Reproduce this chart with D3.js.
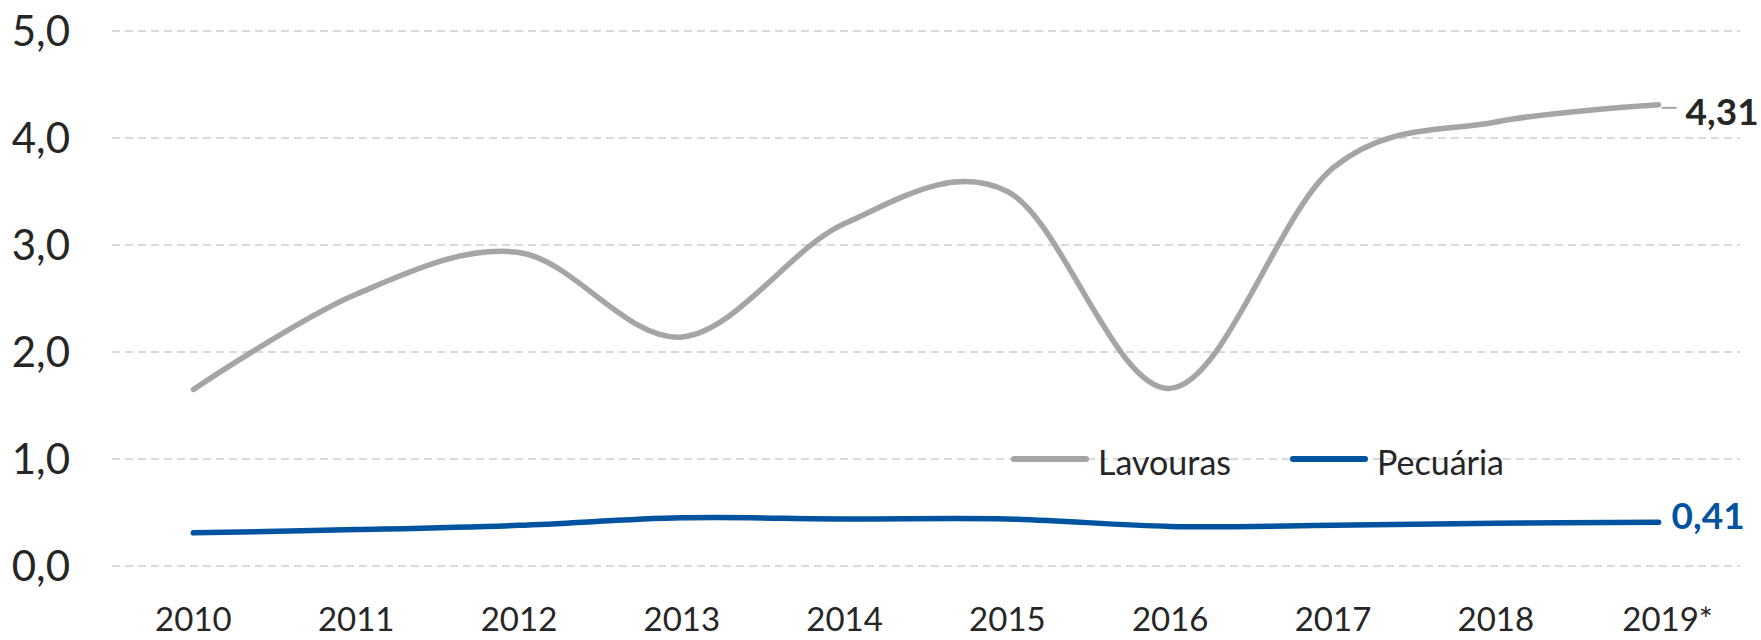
<!DOCTYPE html>
<html>
<head>
<meta charset="utf-8">
<script src="https://cdn.jsdelivr.net/npm/d3@7"></script>
<style>
  body { margin: 0; background: #fff; }
  text { font-family: Lato, "Noto Sans", sans-serif; fill: #262626; }
</style>
</head>
<body>
<svg id="chart"></svg>
<script>
// data
var years = ["2010", "2011", "2012", "2013", "2014", "2015", "2016", "2017", "2018", "2019*"];
var lavouras = [1.65, 2.54, 2.93, 2.14, 3.2, 3.5, 1.66, 3.72, 4.15, 4.31];
var pecuaria = [0.31, 0.34, 0.38, 0.45, 0.44, 0.44, 0.37, 0.38, 0.40, 0.41];
var yTicks = [0, 1, 2, 3, 4, 5];

var width = 1761, height = 640;
var margin = { top: 31, right: 21, bottom: 74, left: 112 };

var svg = d3.select("#chart")
	.attr("width", width)
	.attr("height", height);

var x = d3.scaleBand()
	.domain(years)
	.range([margin.left, width - margin.right]);

var y = d3.scaleLinear()
	.domain([0, 5])
	.range([height - margin.bottom, margin.top]);

var fmt = function (d) { return d3.format(".1f")(d).replace(".", ","); };
var cx = function (d, i) { return x(years[i]) + x.bandwidth() / 2; };

// gridlines
svg.append("g").selectAll("line")
	.data(yTicks)
	.enter().append("line")
	.attr("x1", x.range()[0])
	.attr("x2", x.range()[1])
	.attr("y1", function (d) { return y(d); })
	.attr("y2", function (d) { return y(d); })
	.attr("stroke", "#d9d9d9")
	.attr("stroke-width", 2)
	.attr("stroke-dasharray", "8,5");

// y labels
svg.append("g").selectAll("text")
	.data(yTicks)
	.enter().append("text")
	.attr("x", 70)
	.attr("y", function (d) { return y(d); })
	.attr("dy", "0.36em")
	.attr("text-anchor", "end")
	.style("font-size", "42px")
	.text(fmt);

// x labels
svg.append("g").selectAll("text")
	.data(years)
	.enter().append("text")
	.attr("x", function (d) { return x(d) + x.bandwidth() / 2 + (d.length > 4 ? 9 : 0); })
	.attr("y", 631)
	.attr("text-anchor", "middle")
	.style("font-size", "33px")
	.text(function (d) { return d; });

var line = d3.line()
	.x(cx)
	.y(function (d) { return y(d); })
	.curve(d3.curveCatmullRom.alpha(0));

svg.append("path")
	.datum(lavouras)
	.attr("d", line)
	.attr("fill", "none")
	.attr("stroke", "#a5a5a5")
	.attr("stroke-width", 5.5)
	.attr("stroke-linecap", "round");

svg.append("path")
	.datum(pecuaria)
	.attr("d", line)
	.attr("fill", "none")
	.attr("stroke", "#00539f")
	.attr("stroke-width", 5.5)
	.attr("stroke-linecap", "round");

// end labels
var last = years.length - 1;
var xEnd = cx(null, last);
svg.append("line")
	.attr("x1", xEnd + 3).attr("x2", xEnd + 18)
	.attr("y1", y(lavouras[last]) + 3).attr("y2", y(lavouras[last]) + 3)
	.attr("stroke", "#a5a5a5")
	.attr("stroke-width", 2);

svg.append("text")
	.attr("x", xEnd + 27)
	.attr("y", y(lavouras[last]) + 7)
	.attr("dy", "0.36em")
	.style("font-size", "37px")
	.style("font-weight", "bold")
	.style("fill", "#262626")
	.text(lavouras[last].toFixed(2).replace(".", ","));

svg.append("text")
	.attr("x", xEnd + 13)
	.attr("y", y(pecuaria[last]) - 6)
	.attr("dy", "0.36em")
	.style("font-size", "37px")
	.style("font-weight", "bold")
	.style("fill", "#00539f")
	.text(pecuaria[last].toFixed(2).replace(".", ","));

// legend
var legend = [
	{ name: "Lavouras", color: "#a5a5a5", x: 1014 },
	{ name: "Pecuária", color: "#00539f", x: 1293 }
];
var lg = svg.append("g").selectAll("g")
	.data(legend)
	.enter().append("g")
	.attr("transform", function (d) { return "translate(" + d.x + "," + y(1) + ")"; });
lg.append("line")
	.attr("x1", 0).attr("x2", 72)
	.attr("y1", 0).attr("y2", 0)
	.attr("stroke", function (d) { return d.color; })
	.attr("stroke-width", 6)
	.attr("stroke-linecap", "round");
lg.append("text")
	.attr("x", 84)
	.attr("y", 4)
	.attr("dy", "0.36em")
	.style("font-size", "34px")
	.text(function (d) { return d.name; });
</script>
</body>
</html>
